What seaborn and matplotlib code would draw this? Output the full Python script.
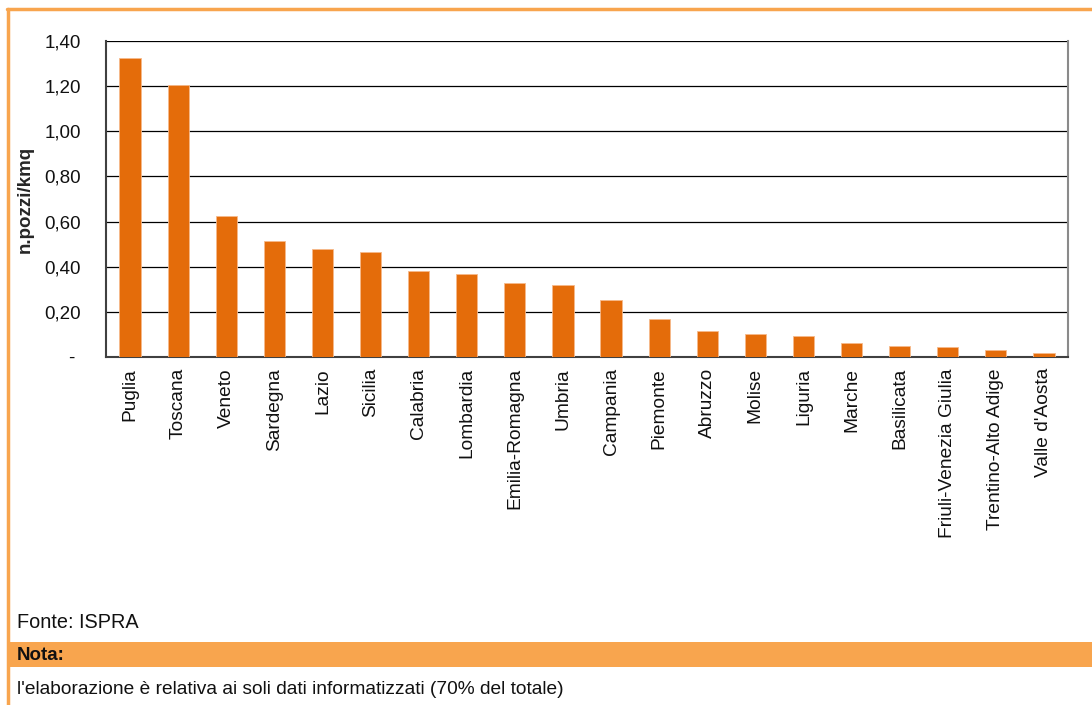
import matplotlib
matplotlib.use("Agg")
import matplotlib.pyplot as plt
import seaborn as sns
import pandas as pd
from matplotlib.lines import Line2D
from matplotlib.patches import Rectangle
from matplotlib.ticker import FuncFormatter

# Data
regioni = ["Puglia", "Toscana", "Veneto", "Sardegna", "Lazio", "Sicilia", "Calabria",
           "Lombardia", "Emilia-Romagna", "Umbria", "Campania", "Piemonte", "Abruzzo",
           "Molise", "Liguria", "Marche", "Basilicata", "Friuli-Venezia Giulia",
           "Trentino-Alto Adige", "Valle d'Aosta"]
pozzi_kmq = [1.325, 1.205, 0.625, 0.514, 0.478, 0.465, 0.381, 0.368, 0.328, 0.319,
             0.253, 0.167, 0.117, 0.102, 0.093, 0.062, 0.050, 0.044, 0.030, 0.019]
y_ticks = [0, 0.2, 0.4, 0.6, 0.8, 1.0, 1.2, 1.4]

df = pd.DataFrame({"Regione": regioni, "Pozzi": pozzi_kmq})

sns.set_style("white")
plt.rcParams["font.family"] = ["Liberation Sans", "DejaVu Sans"]
plt.rcParams["text.color"] = "#111111"

fig = plt.figure(figsize=(10.92, 7.05), dpi=100)
W, H = 1092, 705
ax = fig.add_axes([106 / W, 1 - 357 / H, (1068 - 106) / W, (357 - 41) / H])

sns.barplot(data=df, x="Regione", y="Pozzi", order=regioni, color="#E46C0A",
            saturation=1, width=0.44, edgecolor="#F6B98A", linewidth=0.6, ax=ax, zorder=3)

ax.set_xlim(-0.5, len(regioni) - 0.5)
ax.set_ylim(0, 1.4)
ax.set_yticks(y_ticks)
# Excel accounting style: zero shown as a dash
ax.yaxis.set_major_formatter(FuncFormatter(lambda v, p: "- " if v == 0 else f"{v:.2f}".replace(".", ",")))
ax.grid(axis="y", color="black", linewidth=0.9, zorder=0)
ax.set_axisbelow(True)

# category labels at centres, tick marks at boundaries
ax.set_xticks(range(len(regioni)))
ax.set_xticklabels(regioni, rotation=90, fontsize=13.8, color="#111111")
ax.set_xticks([i - 0.5 for i in range(len(regioni) + 1)], minor=True)
ax.tick_params(axis="x", which="major", length=0, pad=8)
ax.tick_params(axis="x", which="minor", length=5, width=1, color="#404040", direction="out")
ax.tick_params(axis="y", length=5, width=1, color="#404040", direction="out",
               labelsize=13.5, pad=13, labelcolor="#111111")

ax.set_xlabel("")
ax.set_ylabel("n.pozzi/kmq", fontsize=13.5, fontweight="bold", labelpad=8)

for side in ["left", "bottom"]:
    ax.spines[side].set_color("#404040")
    ax.spines[side].set_linewidth(1.5)
ax.spines["right"].set_color("#8a8a8a")
ax.spines["right"].set_linewidth(1.5)
ax.spines["top"].set_visible(False)

# frame of the panel
border = "#F8A54E"
fig.add_artist(Line2D([7 / W, 1], [1 - 9 / H, 1 - 9 / H], color=border, linewidth=2.5))
fig.add_artist(Line2D([7.5 / W, 7.5 / W], [0, 1 - 9 / H], color=border, linewidth=2.5))
fig.add_artist(Rectangle((7 / W, 1 - 667 / H), 1 - 7 / W, 25 / H, transform=fig.transFigure,
                         facecolor=border, edgecolor="none"))

fig.text(17 / W, 1 - 623 / H, "Fonte: ISPRA", fontsize=14.3, va="center", ha="left")
fig.text(17 / W, 1 - 655 / H, "Nota:", fontsize=13.5, fontweight="bold", va="center", ha="left")
fig.text(17 / W, 1 - 690 / H, "l'elaborazione è relativa ai soli dati informatizzati (70% del totale)",
         fontsize=13.8, va="center", ha="left")

fig.savefig("out.png", dpi=100)
